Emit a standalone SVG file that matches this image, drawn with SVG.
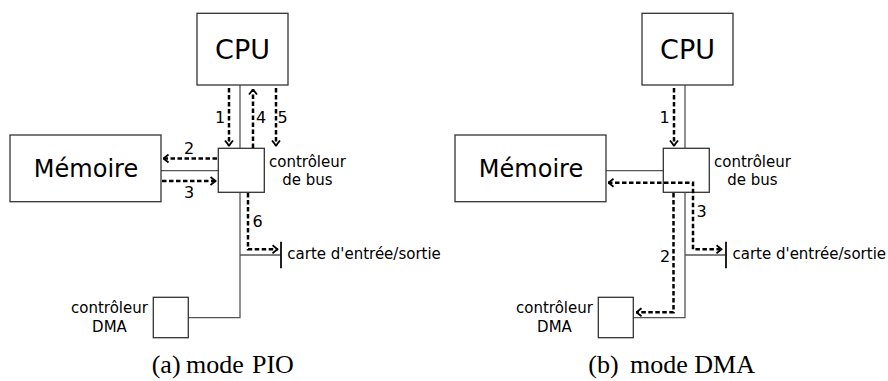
<svg xmlns="http://www.w3.org/2000/svg" width="888" height="381" viewBox="0 0 888 381">
<style>
.box{fill:#fff;stroke:#333;stroke-width:1.3}
.wire{fill:none;stroke:#555;stroke-width:1.3}
.bar{fill:none;stroke:#222;stroke-width:2}
.flow{fill:none;stroke:#000;stroke-width:2.5;stroke-dasharray:4.5,2.5}
.t{font-family:"DejaVu Sans",sans-serif;fill:#000}
.big{font-size:27px;text-anchor:middle}
.mem{font-size:24px;text-anchor:middle}
.lab{font-size:15px}
.mid{text-anchor:middle}
.num{font-size:16px;text-anchor:middle}
.cap{font-family:"Liberation Serif","Times New Roman",serif;font-size:26px;fill:#000}
</style>
<defs>
<marker id="ah" viewBox="0 0 7 10" refX="6.5" refY="5" markerWidth="7" markerHeight="10" markerUnits="userSpaceOnUse" orient="auto-start-reverse">
<path d="M1,1 L6,5 L1,9" fill="none" stroke="#000" stroke-width="1.8"/>
</marker>
</defs>

<g id="wires">
<line class="wire" x1="240" y1="85" x2="240" y2="148"/>
<line class="wire" x1="161" y1="170.7" x2="218" y2="170.7"/>
<polyline class="wire" points="240,192 240,317.7 188,317.7"/>
<line class="wire" x1="240" y1="255" x2="281" y2="255"/>
<line class="wire" x1="685" y1="85" x2="685" y2="148"/>
<line class="wire" x1="606" y1="170.7" x2="663" y2="170.7"/>
<polyline class="wire" points="685,192 685,317.7 633,317.7"/>
<line class="wire" x1="685" y1="255" x2="726" y2="255"/>
</g>

<g id="a-cpu"><rect class="box" x="197" y="13.3" width="91" height="71.7"/><text class="t big" x="242.5" y="59">CPU</text></g>
<g id="a-mem"><rect class="box" x="10" y="135" width="151" height="66.7"/><text class="t mem" x="86" y="176.5">Mémoire</text></g>
<g id="a-bus"><rect class="box" x="218.3" y="148.3" width="46" height="44"/><text class="t lab mid" x="307.5" y="166.5">contrôleur</text><text class="t lab mid" x="307.5" y="185">de bus</text></g>
<g id="a-io"><line class="bar" x1="281" y1="241.7" x2="281" y2="268.3"/><text class="t lab" x="287.3" y="259">carte d'entrée/sortie</text></g>
<g id="a-dma"><rect class="box" x="153.3" y="297.3" width="35" height="40.4"/><text class="t lab mid" x="109.5" y="312.7">contrôleur</text><text class="t lab mid" x="109.5" y="331.7">DMA</text></g>

<g id="b-cpu"><rect class="box" x="642" y="13.3" width="91" height="71.7"/><text class="t big" x="687.5" y="59">CPU</text></g>
<g id="b-mem"><rect class="box" x="455" y="135" width="151" height="66.7"/><text class="t mem" x="531" y="176.5">Mémoire</text></g>
<g id="b-bus"><rect class="box" x="663.3" y="148.3" width="46" height="44"/><text class="t lab mid" x="752.5" y="166.5">contrôleur</text><text class="t lab mid" x="752.5" y="185">de bus</text></g>
<g id="b-io"><line class="bar" x1="726" y1="241.7" x2="726" y2="268.3"/><text class="t lab" x="732.5" y="259">carte d'entrée/sortie</text></g>
<g id="b-dma"><rect class="box" x="598.3" y="297.3" width="35" height="40.4"/><text class="t lab mid" x="554.5" y="312.7">contrôleur</text><text class="t lab mid" x="554.5" y="331.7">DMA</text></g>

<g id="flows">
<path class="flow" d="M229,88 V146" marker-end="url(#ah)"/>
<path class="flow" d="M253,148 V89" marker-end="url(#ah)"/>
<path class="flow" d="M276,88 V146" marker-end="url(#ah)"/>
<path class="flow" d="M217,158.5 H163" marker-end="url(#ah)"/>
<path class="flow" d="M162,181 H216" marker-end="url(#ah)"/>
<path class="flow" d="M248,193 V249.3 H278" marker-end="url(#ah)"/>
<path class="flow" d="M674,88 V146" marker-end="url(#ah)"/>
<path class="flow" d="M608,182.7 H693 V249.3 H722" marker-start="url(#ah)" marker-end="url(#ah)"/>
<path class="flow" d="M673.5,193 V312.3 H636" marker-end="url(#ah)"/>
</g>

<g id="labels">
<text class="t num" x="220" y="123">1</text>
<text class="t num" x="261" y="123">4</text>
<text class="t num" x="282.5" y="123">5</text>
<text class="t num" x="189" y="153.5">2</text>
<text class="t num" x="189" y="198">3</text>
<text class="t num" x="257.5" y="226.5">6</text>
<text class="t num" x="664.5" y="123">1</text>
<text class="t num" x="701.7" y="216.5">3</text>
<text class="t num" x="665" y="261.5">2</text>
</g>

<g id="captions">
<text class="cap" x="151.7" y="373">(a)</text>
<text class="cap" x="186" y="373">mode <tspan x="252">PIO</tspan></text>
<text class="cap" x="588.3" y="373">(b)</text>
<text class="cap" x="630" y="373">mode DMA</text>
</g>
</svg>
